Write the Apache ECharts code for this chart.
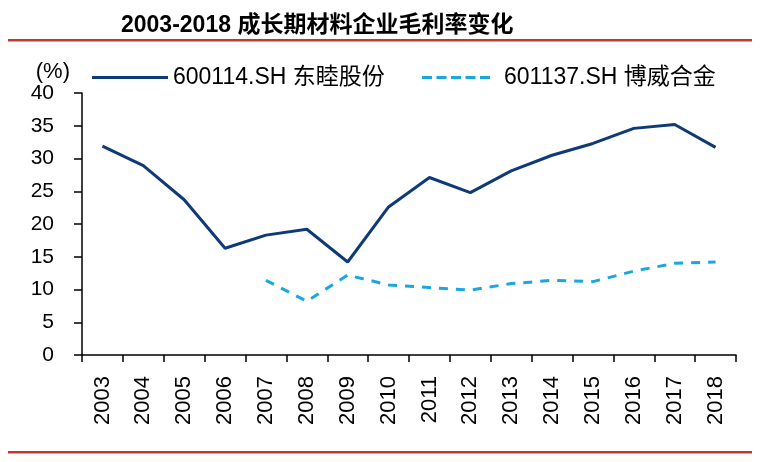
<!DOCTYPE html>
<html><head><meta charset="utf-8">
<script src="https://cdn.jsdelivr.net/npm/echarts@6/dist/echarts.min.js"></script>
<style>html,body{margin:0;padding:0;background:#fff}#c{width:766px;height:462px}</style>
</head><body><div id="c"></div>
<script>
const years = ['2003','2004','2005','2006','2007','2008','2009','2010','2011','2012','2013','2014','2015','2016','2017','2018'];
const dongmu = [31.9,28.9,23.7,16.3,18.3,19.2,14.2,22.6,27.1,24.8,28.1,30.5,32.3,34.6,35.2,31.7];
const bowei = [null,null,null,null,11.4,8.2,12.2,10.7,10.3,9.9,10.9,11.4,11.2,12.8,14.0,14.2];
const yTicks = {min:0,max:40,interval:5};
const seriesNames = ['600114.SH 东睦股份','601137.SH 博威合金'];

const chart = echarts.init(document.getElementById('c'));
const font = 'Liberation Sans, Arial, "Noto Sans CJK SC", sans-serif';
chart.setOption({
  animation:false,
  title:{text:'2003-2018 成长期材料企业毛利率变化',left:116,top:9,
    textStyle:{fontFamily:font,fontWeight:'bold',fontSize:23,color:'#000'}},
  graphic:[
    {type:'rect',shape:{x:8,y:39,width:744,height:2.5},style:{fill:'#c0392b'}},
    {type:'rect',shape:{x:8,y:451,width:744,height:2.5},style:{fill:'#c0392b'}}
  ],
  legend:[
    {left:87,top:61,itemWidth:76,itemHeight:10,icon:'path://M0,0 L76,0 L76,3 L0,3 Z',
      textStyle:{fontFamily:font,fontSize:23,color:'#000'},
      data:[seriesNames[0]]},
    {left:417,top:61,itemWidth:68,itemHeight:10,
      icon:'path://M0,0h10v3h-10z M14.5,0h10v3h-10z M29,0h10v3h-10z M43.5,0h10v3h-10z M58,0h10v3h-10z',
      textStyle:{fontFamily:font,fontSize:23,color:'#000',padding:[0,0,0,9]},
      data:[seriesNames[1]]}
  ],
  grid:{left:82,right:30,top:93,bottom:107,containLabel:false},
  xAxis:{type:'category',data:years,boundaryGap:true,
    axisLine:{lineStyle:{color:'#000',width:1.5}},
    axisTick:{show:true,alignWithLabel:false,length:7,lineStyle:{color:'#000',width:1.5}},
    axisLabel:{rotate:90,fontSize:22,color:'#000',fontFamily:font,margin:21}},
  yAxis:{type:'value',min:yTicks.min,max:yTicks.max,interval:yTicks.interval,
    name:'(%)',nameLocation:'end',nameGap:6,
    nameTextStyle:{fontFamily:font,fontSize:22,color:'#000',align:'right',padding:[0,12,0,0]},
    splitLine:{show:false},
    axisLine:{show:true,lineStyle:{color:'#000',width:1.5}},
    axisTick:{show:true,length:8,lineStyle:{color:'#000',width:1.5}},
    axisLabel:{fontSize:21,color:'#000',fontFamily:font,margin:28}},
  series:[
    {name:seriesNames[0],type:'line',data:dongmu,symbol:'none',
      lineStyle:{color:'#0f3a78',width:3},itemStyle:{color:'#0f3a78'}},
    {name:seriesNames[1],type:'line',data:bowei,symbol:'none',
      lineStyle:{color:'#1aa5e3',width:3,type:[9,8]},itemStyle:{color:'#1aa5e3'}}
  ]
});
</script></body></html>
